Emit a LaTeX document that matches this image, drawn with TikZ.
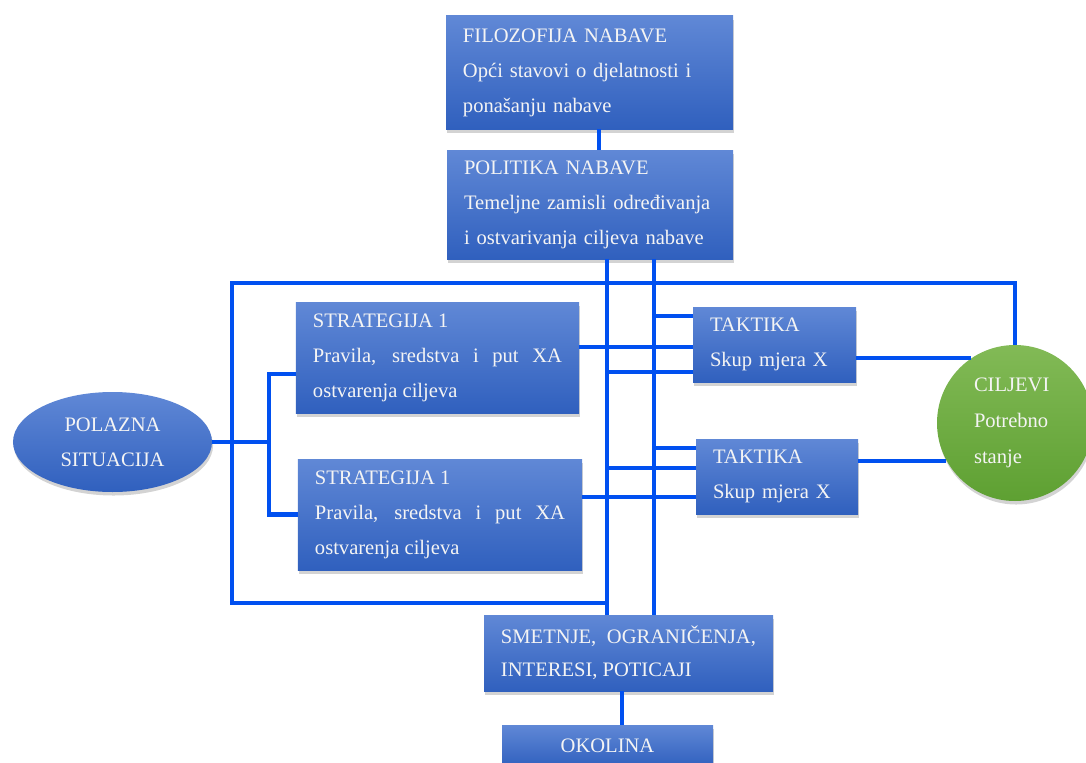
\documentclass[tikz,border=0pt]{standalone}
\usepackage{fontspec}
\setmainfont{Liberation Serif}
\definecolor{NabavaTop}{HTML}{6088D6}
\definecolor{NabavaBottom}{HTML}{3060BE}
\definecolor{NabavaLine}{HTML}{0050F0}
\definecolor{NabavaText}{HTML}{F4F4F4}
\definecolor{CiljTop}{HTML}{82BA56}
\definecolor{CiljBottom}{HTML}{5EA032}
\usetikzlibrary{shapes.geometric, shadows}

\tikzset{
  sjena/.style={drop shadow={shadow xshift=0.6pt, shadow yshift=-2pt, opacity=0.35}},
  okvir/.style={rectangle, top color=NabavaTop, bottom color=NabavaBottom, text=NabavaText,
    sjena, inner xsep=0.34cm, inner ysep=0pt},
  veza/.style={NabavaLine, line width=2.3pt},
}

\begin{document}
\begin{tikzpicture}[x=0.2mm, y=-0.2mm, font=\fontsize{11.7}{19.9}\selectfont]
        \useasboundingbox (0,0) rectangle (1086,763);

        % Filozofija i politika
        \node[okvir, text width=5.06cm, minimum height=2.26cm, align=left] (filozofija) at (589.5,72.5)
            {FILOZOFIJA NABAVE\\ Opći stavovi o djelatnosti i\\ ponašanju nabave};
        \node[okvir, text width=5.04cm, minimum height=2.18cm, align=left] (politika) at (590,204.5)
            {POLITIKA NABAVE\\ Temeljne zamisli određivanja\\ i ostvarivanja ciljeva nabave};

        % Strategije
        \node[okvir, text width=4.98cm, minimum height=2.22cm, align=justify] (strategija1) at (437.5,357.5)
            {STRATEGIJA 1\\ Pravila, sredstva i put XA\linebreak ostvarenja ciljeva};
        \node[okvir, text width=5.0cm, minimum height=2.22cm, align=justify] (strategija2) at (440,514.5)
            {STRATEGIJA 1\\ Pravila, sredstva i put XA\linebreak ostvarenja ciljeva};

        % Taktike
        \node[okvir, text width=2.58cm, minimum height=1.5cm, align=left] (taktika1) at (774.5,344.5)
            {TAKTIKA\\ Skup mjera X};
        \node[okvir, text width=2.56cm, minimum height=1.5cm, align=left] (taktika2) at (777,476.5)
            {TAKTIKA\\ Skup mjera X};

        % Polazna situacija i ciljevi
        \node[ellipse, top color=NabavaTop, bottom color=NabavaBottom, text=NabavaText, sjena,
            minimum width=3.98cm, minimum height=2cm, inner sep=0pt, align=center] (polazna) at (112.5,442)
            {POLAZNA\\ SITUACIJA};
        \node[circle, top color=CiljTop, bottom color=CiljBottom, text=NabavaText, sjena,
            minimum size=3.12cm, inner sep=0pt, text width=1.64cm, align=left,
            font=\fontsize{11.7}{20.5}\selectfont] (ciljevi) at (1015,423)
            {CILJEVI\\ Potrebno\\ stanje};

        % Smetnje i okolina
        \node[okvir, text width=5.1cm, minimum height=1.52cm, align=justify,
            font=\fontsize{11.7}{18.8}\selectfont] (smetnje) at (628.5,653)
            {SMETNJE,\ \ OGRANIČENJA,\linebreak INTERESI, POTICAJI};
        \node[okvir, minimum width=4.22cm, minimum height=0.84cm, align=center] (okolina) at (607.5,746)
            {OKOLINA};

        % Sabirnice
        \coordinate (busA) at (607,0);
        \coordinate (busB) at (654,0);
        \coordinate (okvirGL) at (232,283);
        \coordinate (okvirDL) at (232,603);
        \coordinate (racva) at (269,442);

        \draw[veza] (filozofija.south -| 599,0) -- (politika.north -| 599,0);
        \draw[veza] (politika.south -| busA) -- (smetnje.north -| busA);
        \draw[veza] (politika.south -| busB) -- (smetnje.north -| busB);
        \draw[veza] (ciljevi.north) |- (okvirGL) -- (okvirDL) -- (okvirDL -| busA);

        % Polazna -> strategije
        \draw[veza] (polazna.east) -- (racva);
        \draw[veza] (strategija1.west |- 0,374) -| (racva) |- (strategija2.west);

        % Strategije -> taktike
        \draw[veza] (strategija1.east |- 0,347) -- (taktika1.west |- 0,347);
        \draw[veza] (busA |- 0,372) -- (taktika1.west |- 0,372);
        \draw[veza] (busB |- 0,316) -- (taktika1.west |- 0,316);
        \draw[veza] (busB |- 0,448) -- (taktika2.west |- 0,448);
        \draw[veza] (busA |- 0,468) -- (taktika2.west |- 0,468);
        \draw[veza] (strategija2.east |- 0,497) -- (taktika2.west |- 0,497);

        % Taktike -> ciljevi
        \draw[veza] (taktika1.east |- ciljevi.124) -- (ciljevi.124);
        \draw[veza] (taktika2.east |- ciljevi.209) -- (ciljevi.209);

        % Smetnje -> okolina
        \draw[veza] (smetnje.south -| 622,0) -- (okolina.north -| 622,0);
    \end{tikzpicture}
\end{document}
